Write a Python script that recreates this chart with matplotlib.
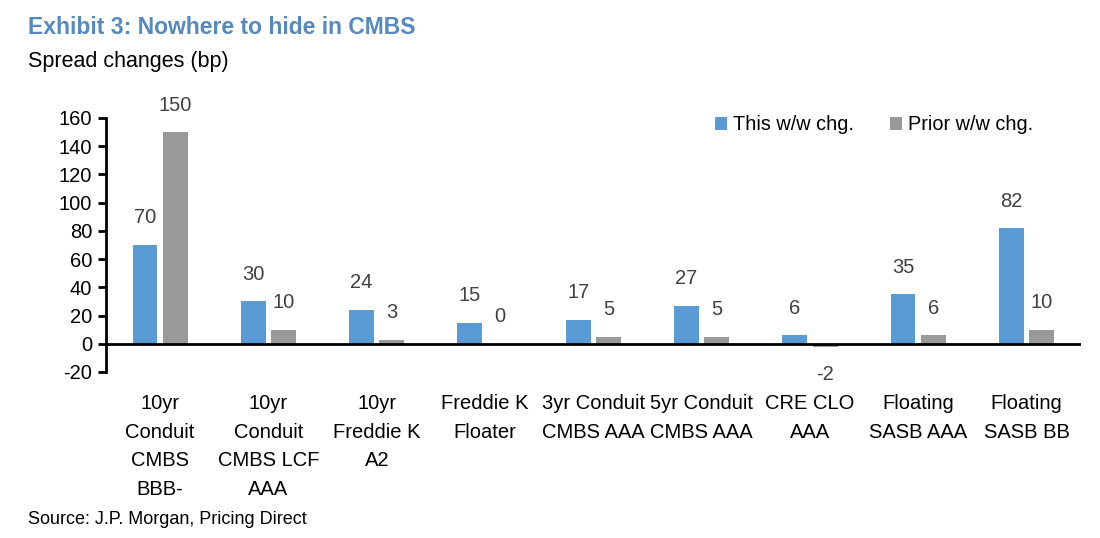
import matplotlib
matplotlib.use('Agg')
import matplotlib.pyplot as plt
import numpy as np

plt.rcParams['font.family'] = ['Liberation Sans', 'DejaVu Sans']
plt.rcParams['axes.unicode_minus'] = False

categories = ['10yr\nConduit\nCMBS\nBBB-', '10yr\nConduit\nCMBS LCF\nAAA', '10yr\nFreddie K\nA2',
              'Freddie K\nFloater', '3yr Conduit\nCMBS AAA', '5yr Conduit\nCMBS AAA',
              'CRE CLO\nAAA', 'Floating\nSASB AAA', 'Floating\nSASB BB']
this_chg = [70, 30, 24, 15, 17, 27, 6, 35, 82]
prior_chg = [150, 10, 3, 0, 5, 5, -2, 6, 10]
y_ticks = [-20, 0, 20, 40, 60, 80, 100, 120, 140, 160]

blue = '#5b9bd5'
grey = '#999999'
txt = '#404040'

fig = plt.figure(figsize=(11, 5.38), dpi=100)
ax = fig.add_axes([0.0964, 0.3086, 0.886, 0.4721])

x = np.arange(len(categories))
w = 0.23
off = 0.14
ax.bar(x - off, this_chg, w, color=blue, label='This w/w chg.')
ax.bar(x + off, prior_chg, w, color=grey, label='Prior w/w chg.')

# value labels
for xi, v in zip(x - off, this_chg):
    ax.annotate(str(v), (xi, v), xytext=(0, 27 if v >= 0 else -28), textcoords='offset pixels',
                ha='center', va='center', fontsize=14.5, color=txt)
for xi, v in zip(x + off, prior_chg):
    ax.annotate(str(v), (xi, v), xytext=(0, 27 if v >= 0 else -28), textcoords='offset pixels',
                ha='center', va='center', fontsize=14.5, color=txt)

ax.axhline(0, color='black', lw=2)
ax.set_xlim(-0.5, len(categories) - 0.5)
ax.set_ylim(-20, 160)
ax.set_yticks(y_ticks)
ax.tick_params(axis='y', labelsize=14.5, direction='out', length=6, width=2, pad=4)
ax.set_xticks(x)
ax.set_xticklabels(categories, fontsize=14.5, linespacing=1.63)
ax.tick_params(axis='x', length=0, pad=16)
for s in ['top', 'right', 'bottom']:
    ax.spines[s].set_visible(False)
ax.spines['left'].set_linewidth(2)

ax.legend(loc='center left', bbox_to_anchor=(715 / 1100, 1 - 125 / 538),
          bbox_transform=fig.transFigure, ncol=2, frameon=False, fontsize=14.3,
          handlelength=0.6, handleheight=0.6, handletextpad=0.3, columnspacing=1.85,
          borderpad=0, borderaxespad=0)

fig.text(0.025, 1 - 28 / 538, 'Exhibit 3: Nowhere to hide in CMBS', fontsize=16.5,
         fontweight='bold', color='#5589c0', ha='left', va='center')
fig.text(0.025, 1 - 62 / 538, 'Spread changes (bp)', fontsize=15.5, color='black',
         ha='left', va='center')
fig.text(0.025, 1 - 519 / 538, 'Source: J.P. Morgan, Pricing Direct', fontsize=13,
         color='black', ha='left', va='center')

fig.savefig('out.png', dpi=100)
